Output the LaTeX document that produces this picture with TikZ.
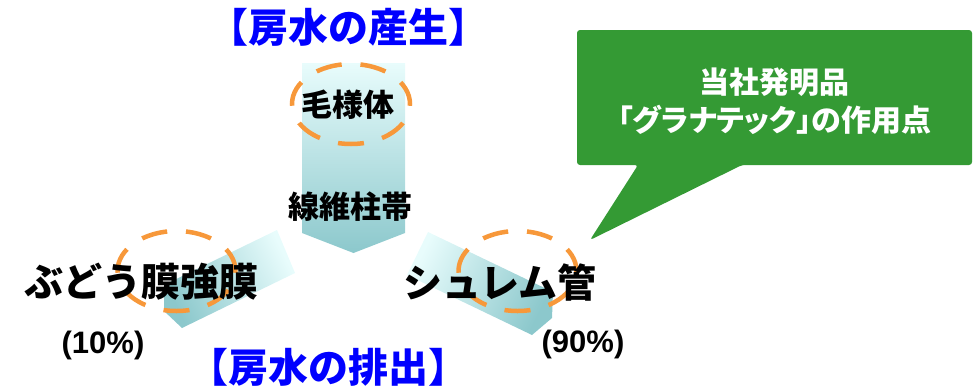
\documentclass[tikz,border=0pt]{standalone}
\usepackage{fontspec}
\setmainfont{Liberation Sans}
\newfontfamily\jpfont{Noto Sans CJK JP}
\newfontfamily\jpprop[RawFeature=+palt]{Noto Sans CJK JP}
\usepackage{tikz}
\definecolor{TitleBlue}{RGB}{0,0,255}
\definecolor{FlowLight}{RGB}{232,252,252}
\definecolor{FlowDark}{RGB}{140,200,204}
\definecolor{RingOrange}{RGB}{247,152,58}
\definecolor{NoteGreen}{RGB}{52,154,52}

\begin{document}
\begin{tikzpicture}[
		x=1pt, y=-1pt,
		flow/.style={draw=none, top color=FlowLight, bottom color=FlowDark},
		ring/.style={draw=RingOrange, line width=4.5pt, dash pattern=on 26pt off 18.84pt, dash phase=24.2pt},
		title/.style={inner sep=0, font=\jpfont\bfseries\fontsize{40}{44}\selectfont, text=TitleBlue},
		part/.style={inner sep=0, font=\jpfont\bfseries\fontsize{39}{44}\selectfont},
		tissue/.style={inner sep=0, font=\jpfont\bfseries\fontsize{31}{34}\selectfont},
		pct/.style={inner sep=0, font=\bfseries\fontsize{31}{34}\selectfont},
		note/.style={inner sep=0, align=center, text=white, font=\jpprop\bfseries\fontsize{30}{37.5}\selectfont}
		]
		\useasboundingbox (0,0) rectangle (973,388);
		
		% ===== flow arrows =====
		\path[flow] (302,63) -- (405,63) -- (405,233) -- (353.5,253) -- (302,233) -- cycle;
		\path[flow, shading angle=-64] (277,230) -- (295,273) -- (182,328) -- (164,311) -- (164,285) -- cycle;
		\path[flow, shading angle=64] (428,232) -- (553,292) -- (552,318) -- (532,335) -- (407,275) -- cycle;
		
		% ===== dashed rings =====
		\foreach \cx/\cy in {351/104, 176.5/271, 517.5/271}{
			\draw[ring] (\cx,\cy) ellipse [x radius=59, y radius=40];
		}
		
		% ===== callout =====
		\fill[NoteGreen, rounded corners=3pt]
		(577,30) -- (972,30) -- (972,165) -- (742,165) -- (590,240) -- (638,165) -- (577,165) -- cycle;
		\node[note] (note) at (774.5,101) {当社発明品\\「グラナテック」の作用点};
		
		% ===== labels =====
		\node[title] (prod) at (348,27) {【房水の産生】};
		\node[title] (drain) at (328,367) {【房水の排出】};
		\node[tissue] (cb) at (348,105) {毛様体};
		\node[tissue] (tm) at (350,207) {線維柱帯};
		\node[part] (uveo) at (141,282) {ぶどう膜強膜};
		\node[part] (sc) at (500,283) {シュレム管};
		\node[pct] (uveoPct) at (103,345) {(10\%)};
		\node[pct] (scPct) at (583,344) {(90\%)};
		
	\end{tikzpicture}
\end{document}
